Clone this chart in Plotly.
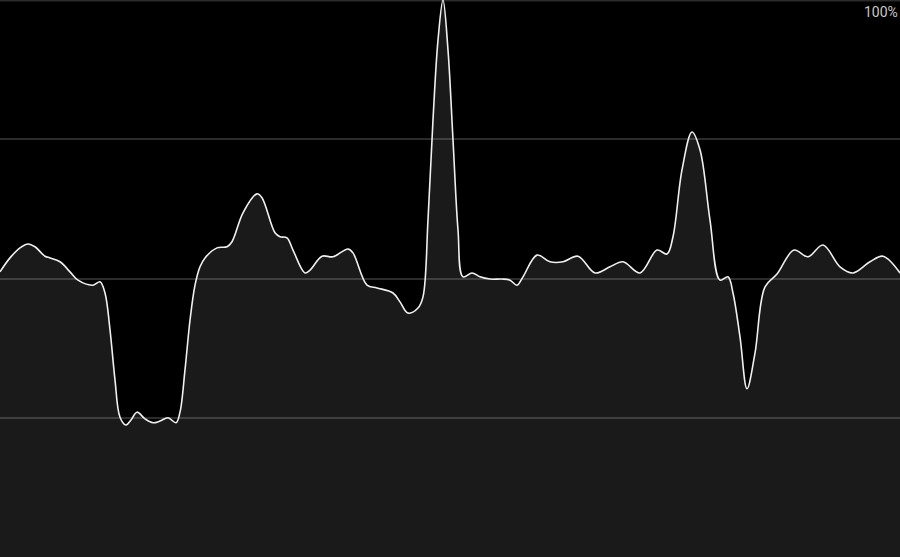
import plotly.graph_objects as go

t = [0, 10, 20, 28, 35, 45, 50, 60, 70, 78, 93, 100, 105, 110, 115, 120, 126, 131, 137, 145,
     153, 160, 168, 176, 180, 185, 190, 195, 200, 205, 217, 227, 232, 243, 257, 262, 275, 280,
     287, 293, 305, 310, 322, 333, 348, 353, 367, 377, 393, 400, 408, 418, 423, 428, 433, 438,
     443, 448, 453, 458, 463, 472, 480, 490, 502, 510, 517, 523, 537, 550, 563, 578, 595, 610,
     623, 640, 657, 667, 673, 682, 692, 700, 710, 720, 728, 733, 740, 747, 755, 765, 777, 794,
     808, 823, 840, 853, 870, 883, 900]
values = [51.2, 53.7, 55.5, 56.2, 55.7, 54.0, 53.7, 53.0, 51.2, 49.7, 48.8, 49.4, 47.4, 40.8,
          31.8, 25.1, 23.7, 24.6, 26.0, 24.8, 24.1, 24.4, 25.0, 24.1, 26.0, 33.6, 42.5, 48.8,
          52.1, 53.7, 55.5, 55.7, 56.6, 61.8, 65.2, 64.5, 58.2, 57.5, 57.3, 55.1, 51.0, 51.5,
          54.0, 53.9, 55.3, 54.6, 48.8, 48.3, 47.4, 45.8, 43.8, 44.7, 46.7, 60.5, 78.5, 92.8,
          100.0, 91.0, 74.9, 58.7, 50.3, 51.0, 50.3, 49.9, 49.9, 49.7, 48.8, 50.3, 54.2, 53.0,
          53.0, 54.0, 51.0, 52.1, 53.0, 51.0, 55.1, 54.4, 57.5, 69.5, 76.3, 73.1, 60.5, 49.7,
          50.3, 47.4, 39.5, 30.2, 36.6, 48.5, 50.8, 55.1, 53.9, 56.0, 52.1, 51.0, 53.0, 54.0, 51.0]
y_ticks = [0, 25, 50, 75, 100]
top_label = "100%"

grid_color = "rgba(255,255,255,0.17)"

fig = go.Figure(go.Scatter(
    x=t, y=values, mode="lines",
    line=dict(color="#f0f0f0", width=1.6, shape="spline", smoothing=1.0),
    fill="tozeroy", fillcolor="rgba(255,255,255,0.1)",
    hoverinfo="skip", showlegend=False,
))
fig.add_shape(type="line", xref="paper", yref="y", x0=0, x1=1, y0=y_ticks[-1], y1=y_ticks[-1],
              line=dict(color=grid_color, width=3), layer="below")
fig.update_layout(
    width=900, height=557,
    margin=dict(l=0, r=0, t=0, b=0),
    paper_bgcolor="#000000", plot_bgcolor="#000000",
    xaxis=dict(range=[0, 900], visible=False, fixedrange=True),
    yaxis=dict(range=[0, 100], tickvals=y_ticks, showticklabels=False,
               gridcolor=grid_color, gridwidth=2, zeroline=False,
               fixedrange=True),
    annotations=[dict(text=top_label, xref="paper", yref="paper", x=1, y=1,
                      xanchor="right", yanchor="top", showarrow=False,
                      yshift=-2, xshift=0,
                      font=dict(family="Roboto, Arial, sans-serif", size=14, color="#c8c8c8"))],
)
fig.write_html("out.html", config={"displayModeBar": False})
